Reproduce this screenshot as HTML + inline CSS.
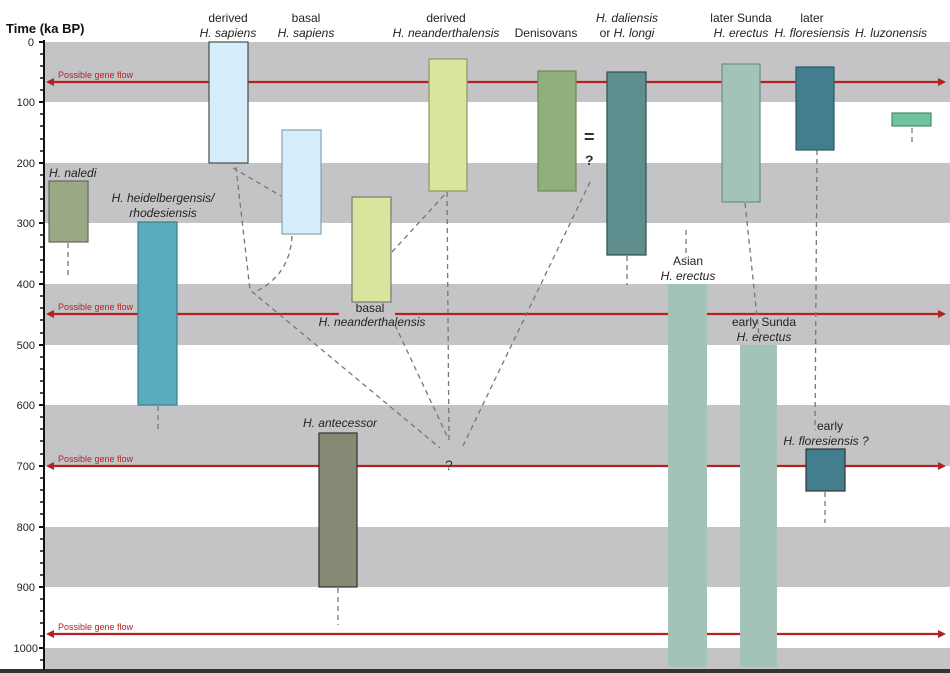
<!DOCTYPE html>
<html><head><meta charset="utf-8"><style>
html,body{margin:0;padding:0;background:#fff;}
svg{display:block;font-family:"Liberation Sans",Arial,sans-serif;}
</style></head><body>
<svg width="950" height="673" viewBox="0 0 950 673">
<g fill="#c4c4c6">
<rect x="45" y="42" width="905" height="60"/>
<rect x="45" y="163" width="905" height="60"/>
<rect x="45" y="284" width="905" height="61"/>
<rect x="45" y="405" width="905" height="61"/>
<rect x="45" y="527" width="905" height="60"/>
<rect x="45" y="648" width="905" height="22"/>
</g>
<rect x="0" y="669" width="950" height="4" fill="#333"/>
<line x1="44" y1="40" x2="44" y2="670" stroke="#111" stroke-width="2"/>
<g stroke="#111" stroke-width="2">
<line x1="39" y1="42" x2="44" y2="42"/><line x1="39" y1="102" x2="44" y2="102"/><line x1="39" y1="163" x2="44" y2="163"/><line x1="39" y1="223" x2="44" y2="223"/><line x1="39" y1="284" x2="44" y2="284"/><line x1="39" y1="345" x2="44" y2="345"/><line x1="39" y1="405" x2="44" y2="405"/><line x1="39" y1="466" x2="44" y2="466"/><line x1="39" y1="527" x2="44" y2="527"/><line x1="39" y1="587" x2="44" y2="587"/><line x1="39" y1="648" x2="44" y2="648"/>
</g>
<g stroke="#111" stroke-width="1.5">
<line x1="40" y1="54" x2="44" y2="54"/><line x1="40" y1="66" x2="44" y2="66"/><line x1="40" y1="78" x2="44" y2="78"/><line x1="40" y1="90" x2="44" y2="90"/>
<line x1="40" y1="114" x2="44" y2="114"/><line x1="40" y1="126" x2="44" y2="126"/><line x1="40" y1="139" x2="44" y2="139"/><line x1="40" y1="151" x2="44" y2="151"/>
<line x1="40" y1="175" x2="44" y2="175"/><line x1="40" y1="187" x2="44" y2="187"/><line x1="40" y1="199" x2="44" y2="199"/><line x1="40" y1="211" x2="44" y2="211"/>
<line x1="40" y1="235" x2="44" y2="235"/><line x1="40" y1="247" x2="44" y2="247"/><line x1="40" y1="260" x2="44" y2="260"/><line x1="40" y1="272" x2="44" y2="272"/>
<line x1="40" y1="296" x2="44" y2="296"/><line x1="40" y1="308" x2="44" y2="308"/><line x1="40" y1="320" x2="44" y2="320"/><line x1="40" y1="333" x2="44" y2="333"/>
<line x1="40" y1="357" x2="44" y2="357"/><line x1="40" y1="369" x2="44" y2="369"/><line x1="40" y1="381" x2="44" y2="381"/><line x1="40" y1="393" x2="44" y2="393"/>
<line x1="40" y1="417" x2="44" y2="417"/><line x1="40" y1="429" x2="44" y2="429"/><line x1="40" y1="441" x2="44" y2="441"/><line x1="40" y1="454" x2="44" y2="454"/>
<line x1="40" y1="478" x2="44" y2="478"/><line x1="40" y1="490" x2="44" y2="490"/><line x1="40" y1="502" x2="44" y2="502"/><line x1="40" y1="514" x2="44" y2="514"/>
<line x1="40" y1="539" x2="44" y2="539"/><line x1="40" y1="551" x2="44" y2="551"/><line x1="40" y1="563" x2="44" y2="563"/><line x1="40" y1="575" x2="44" y2="575"/>
<line x1="40" y1="599" x2="44" y2="599"/><line x1="40" y1="611" x2="44" y2="611"/><line x1="40" y1="623" x2="44" y2="623"/><line x1="40" y1="636" x2="44" y2="636"/>
<line x1="40" y1="660" x2="44" y2="660"/>
</g>
<g font-size="11" fill="#222" text-anchor="end">
<text x="34" y="46">0</text><text x="35" y="106">100</text><text x="35" y="167">200</text><text x="35" y="227">300</text><text x="35" y="288">400</text><text x="35" y="349">500</text><text x="35" y="409">600</text><text x="35" y="470">700</text><text x="35" y="531">800</text><text x="35" y="591">900</text><text x="38" y="652">1000</text>
</g>
<text x="6" y="33" font-size="13" font-weight="bold" fill="#111">Time (ka BP)</text>
<g stroke="#b22222" stroke-width="2.2">
<line x1="52" y1="82" x2="940" y2="82"/>
<line x1="52" y1="314" x2="339" y2="314"/>
<line x1="395" y1="314" x2="940" y2="314"/>
<line x1="52" y1="466" x2="940" y2="466"/>
<line x1="52" y1="634" x2="940" y2="634"/>
</g>
<g fill="#b22222">
<polygon points="46,82 54,78 54,86"/><polygon points="946,82 938,78 938,86"/>
<polygon points="46,314 54,310 54,318"/><polygon points="946,314 938,310 938,318"/>
<polygon points="46,466 54,462 54,470"/><polygon points="946,466 938,462 938,470"/>
<polygon points="46,634 54,630 54,638"/><polygon points="946,634 938,630 938,638"/>
</g>
<g font-size="9" fill="#b22222">
<text x="58" y="78">Possible gene flow</text>
<text x="58" y="310">Possible gene flow</text>
<text x="58" y="462">Possible gene flow</text>
<text x="58" y="630">Possible gene flow</text>
</g>
<g stroke="#777" stroke-width="1.3" stroke-dasharray="5,4" fill="none">
<line x1="233" y1="168" x2="281" y2="196"/>
<path d="M236 167 L250 290 L440 448"/>
<path d="M292 236 Q290 275 255 292"/>
<line x1="392" y1="252" x2="447" y2="192"/>
<line x1="447" y1="192" x2="449" y2="442"/>
<line x1="395" y1="325" x2="448" y2="438"/>
<line x1="590" y1="182" x2="462" y2="448"/>
<line x1="627" y1="256" x2="627" y2="285"/>
<line x1="68" y1="243" x2="68" y2="275"/>
<line x1="158" y1="406" x2="158" y2="430"/>
<line x1="338" y1="588" x2="338" y2="625"/>
<line x1="686" y1="230" x2="686" y2="258"/>
<line x1="745" y1="203" x2="760" y2="345"/>
<line x1="817" y1="150" x2="815" y2="430"/>
<line x1="912" y1="128" x2="912" y2="143"/>
<line x1="825" y1="492" x2="825" y2="523"/>
</g>
<text x="445" y="470" font-size="14" fill="#333">?</text>
<text x="584" y="143" font-size="18" font-weight="bold" fill="#333">=</text>
<text x="585" y="165" font-size="14" font-weight="bold" fill="#333">?</text>
<g stroke-width="1.2">
<rect x="209" y="42" width="39" height="121" fill="#d6eefb" stroke="#4a4a4a"/>
<rect x="282" y="130" width="39" height="104" fill="#d6eefb" stroke="#8aa0b0"/>
<rect x="49" y="181" width="39" height="61" fill="#9aa883" stroke="#666"/>
<rect x="138" y="222" width="39" height="183" fill="#5aabbc" stroke="#3d7f8e"/>
<rect x="352" y="197" width="39" height="105" fill="#dbe49d" stroke="#777"/>
<rect x="429" y="59" width="38" height="132" fill="#dbe49d" stroke="#8a9a60"/>
<rect x="538" y="71" width="38" height="120" fill="#8fb07a" stroke="#6d8a5c"/>
<rect x="607" y="72" width="39" height="183" fill="#5e8f8e" stroke="#2e4f4e"/>
<rect x="722" y="64" width="38" height="138" fill="#a3c3b9" stroke="#6f8f85"/>
<rect x="796" y="67" width="38" height="83" fill="#437e8e" stroke="#2e5a66"/>
<rect x="892" y="113" width="39" height="13" fill="#6dc49d" stroke="#4c8a6f"/>
<rect x="319" y="433" width="38" height="154" fill="#858a74" stroke="#333"/>
<rect x="668" y="284" width="39" height="383" fill="#a3c3b9" stroke="none"/>
<rect x="740" y="345" width="37" height="322" fill="#a3c3b9" stroke="none"/>
<rect x="806" y="449" width="39" height="42" fill="#437e8e" stroke="#333"/>
</g>
<g font-size="12" fill="#222" text-anchor="middle">
<text x="228" y="22">derived</text><text x="228" y="37" font-style="italic">H. sapiens</text>
<text x="306" y="22">basal</text><text x="306" y="37" font-style="italic">H. sapiens</text>
<text x="446" y="22">derived</text><text x="446" y="37" font-style="italic">H. neanderthalensis</text>
<text x="546" y="37">Denisovans</text>
<text x="627" y="22" font-style="italic">H. daliensis</text><text x="627" y="37">or <tspan font-style="italic">H. longi</tspan></text>
<text x="741" y="22">later Sunda</text><text x="741" y="37" font-style="italic">H. erectus</text>
<text x="812" y="22">later</text><text x="812" y="37" font-style="italic">H. floresiensis</text>
<text x="891" y="37" font-style="italic">H. luzonensis</text>
<text x="163" y="202" font-style="italic">H. heidelbergensis/</text>
<text x="163" y="217" font-style="italic">rhodesiensis</text>
<text x="370" y="312">basal</text><text x="372" y="326" font-style="italic">H. neanderthalensis</text>
<text x="340" y="427" font-style="italic">H. antecessor</text>
<text x="688" y="265">Asian</text><text x="688" y="280" font-style="italic">H. erectus</text>
<text x="764" y="326">early Sunda</text><text x="764" y="341" font-style="italic">H. erectus</text>
<text x="830" y="430">early</text><text x="826" y="445" font-style="italic">H. floresiensis ?</text>
</g>
<text x="49" y="177" font-size="12" fill="#222" font-style="italic">H. naledi</text>
</svg>
</body></html>
